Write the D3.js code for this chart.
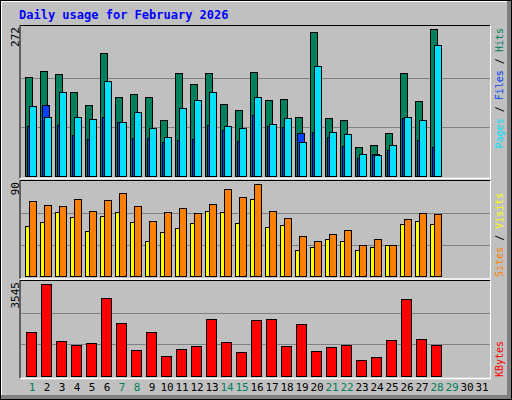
<!DOCTYPE html>
<html><head><meta charset="utf-8">
<script src="https://cdn.jsdelivr.net/npm/d3@7"></script>
<style>body{margin:0;background:#fff}text{font-family:"DejaVu Sans Mono",monospace}</style>
</head><body><svg id="c" width="512" height="400"></svg>
<script>
const days = d3.range(1, 32)
const weekend = [1, 7, 8, 14, 15, 21, 22, 28, 29]
const hits = [184,194,188,155,131,227,146,151,147,103,190,170,190,133,122,192,140,142,110,266,107,103,53,57,79,190,138,272]
const files = [92,131,94,75,68,110,99,71,71,62,66,69,94,85,64,112,92,90,79,81,73,55,33,40,49,107,66,53]
const pages = [129,110,155,109,105,175,99,118,88,72,125,140,155,92,88,147,96,107,62,203,81,77,40,38,57,109,103,242]
const sites = [47.7,51.5,61,56.3,42.9,57.3,61,51.5,33.4,42,45.8,50.6,62,61,50.6,73.5,46.8,48.7,24.8,27.7,35.3,33.4,24.8,27.7,29.6,49.6,52.5,49.6]
const visits = [71.6,67.8,66.8,73.5,62,72.5,79.2,66.8,52.5,61.1,64.9,60.1,68.7,83,75.4,87.8,62,55.4,38.2,33.4,40.1,43.9,29.6,35.3,29.6,54.4,60.1,59.2]
const kbytes = [1642,3458,1301,1150,1226,2928,1982,961,1642,734,999,1112,2134,1264,885,2096,2134,1112,1945,923,1074,1150,583,696,1339,2890,1377,1150]
const maxHits = 272, maxVisits = 90, maxKB = 3545

const svg = d3.select('#c')
// frame
svg.append('rect').attr('x',0).attr('y',0).attr('width',512).attr('height',400).attr('fill','#000')
svg.append('rect').attr('x',1).attr('y',1).attr('width',510).attr('height',398).attr('fill','#808080')
svg.append('rect').attr('x',1).attr('y',1).attr('width',506).attr('height',394).attr('fill','#fff')
svg.append('rect').attr('x',2).attr('y',2).attr('width',505).attr('height',393).attr('fill','#c0c0c0')

svg.append('text').attr('x',19).attr('y',19).attr('fill','#0000ff').attr('font-size',12).attr('font-weight','bold')
  .text('Daily usage for February 2026')

const x = d3.scaleLinear().domain([1,31]).range([25,475])
const yTop = d3.scaleLinear().domain([0,maxHits]).range([176,29])
const yMid = d3.scaleLinear().domain([0,maxVisits]).range([276.3,182])
const yBot = d3.scaleLinear().domain([0,maxKB]).range([375.7,282])

function panel(y0, y1){
  svg.append('line').attr('x1',20).attr('x2',490).attr('y1',y0).attr('y2',y0).attr('stroke','#000')
  svg.append('line').attr('x1',20).attr('x2',20).attr('y1',y0).attr('y2',y1).attr('stroke','#000')
  svg.append('line').attr('x1',20).attr('x2',491).attr('y1',y1).attr('y2',y1).attr('stroke','#fff').attr('stroke-width',1.5)
  svg.append('line').attr('x1',490.5).attr('x2',490.5).attr('y1',y0).attr('y2',y1).attr('stroke','#fff')
}
panel(25.5,178.5); panel(180.5,279); panel(280.5,378.5)

function grid(scale, max){
  [max/3, 2*max/3].forEach(v => svg.append('line').attr('x1',21).attr('x2',490)
    .attr('y1',Math.round(scale(v))+0.5).attr('y2',Math.round(scale(v))+0.5).attr('stroke','#808080'))
}
grid(yTop,maxHits); grid(yMid,maxVisits); grid(yBot,maxKB)

function bars(vals, scale, off, w, color){
  svg.append('g').selectAll('rect').data(vals).join('rect')
    .attr('x',(d,i)=>Math.round(x(i+1))+off+0.5).attr('y',d=>Math.round(scale(d))+0.5)
    .attr('width',w).attr('height',d=>Math.round(scale(0))-Math.round(scale(d)))
    .attr('fill',color).attr('stroke','#000')
}
bars(hits,yTop,0,7,'#00805c')
bars(files,yTop,2,7,'#0040ff')
bars(pages,yTop,4,7,'#00e0ff')
bars(sites,yMid,0,7,'#ffff00')
bars(visits,yMid,4,7,'#ff8000')
bars(kbytes,yBot,1,10,'#ff0000')

// x axis
const ax = svg.append('g').attr('transform','translate(6.5,379)')
  .call(d3.axisBottom(x).tickValues(days).tickSize(0).tickPadding(4).tickFormat(d=>d))
ax.select('.domain').remove()
ax.selectAll('text').attr('font-size',11).attr('font-family','"DejaVu Sans Mono",monospace')
  .attr('fill',d=>weekend.includes(d)?'#00805c':'#000')

// left max labels
;[[maxHits,27],[maxVisits,182],[maxKB,282]].forEach(([t,y])=>{
  svg.append('text').attr('transform',`translate(19,${y}) rotate(-90)`).attr('text-anchor','end')
    .attr('font-size',11).attr('fill','#000').text(t)
})

// right labels
function rlabel(y, anchor, parts){
  const t = svg.append('text').attr('transform',`translate(503,${y}) rotate(-90)`).attr('text-anchor',anchor)
    .attr('font-size',10)
  parts.forEach(([s,c])=>t.append('tspan').attr('fill',c).text(s))
}
rlabel(28,'end',[['Pages','#00e0ff'],[' / ','#000'],['Files','#0040ff'],[' / ','#000'],['Hits','#00805c']])
rlabel(277,'start',[['Sites','#ff8000'],[' / ','#000'],['Visits','#ffff00']])
rlabel(377,'start',[['KBytes','#ff0000']])
</script></body></html>
